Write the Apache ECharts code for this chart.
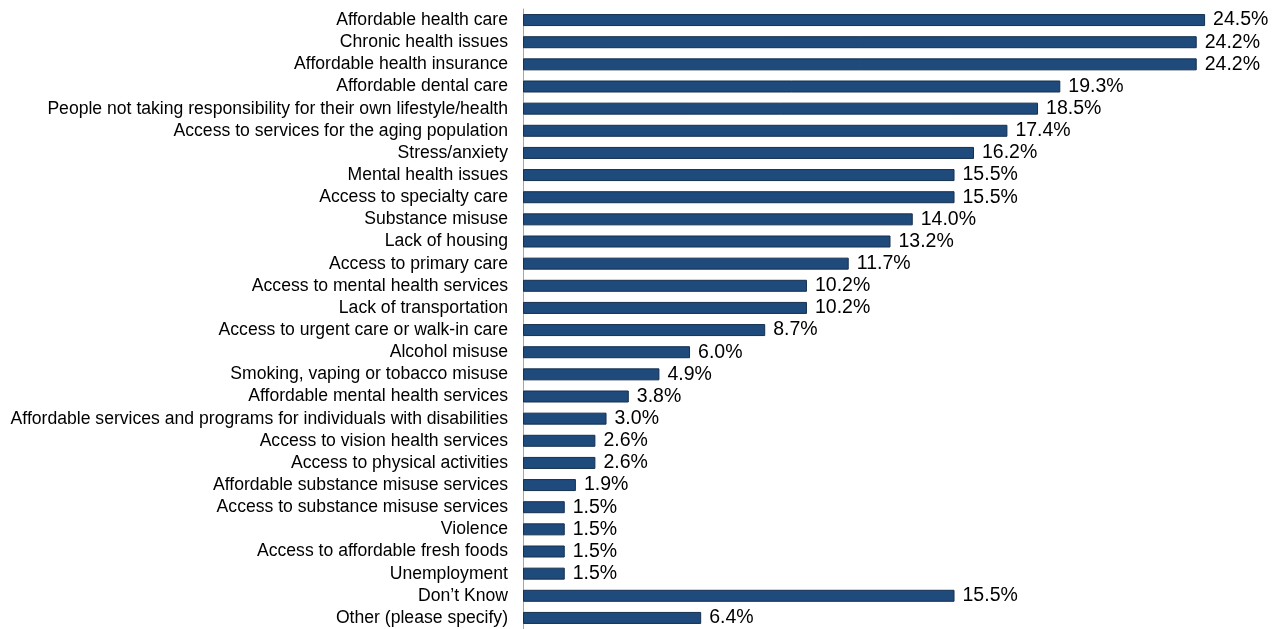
<!DOCTYPE html>
<html><head><meta charset="utf-8">
<script src="https://cdn.jsdelivr.net/npm/echarts@6/dist/echarts.min.js"></script>
<style>html,body{margin:0;padding:0;background:#fff}#c{width:1277px;height:629px}</style>
</head><body><div id="c"></div>
<script>
const categories = [
  "Affordable health care",
  "Chronic health issues",
  "Affordable health insurance",
  "Affordable dental care",
  "People not taking responsibility for their own lifestyle/health",
  "Access to services for the aging population",
  "Stress/anxiety",
  "Mental health issues",
  "Access to specialty care",
  "Substance misuse",
  "Lack of housing",
  "Access to primary care",
  "Access to mental health services",
  "Lack of transportation",
  "Access to urgent care or walk-in care",
  "Alcohol misuse",
  "Smoking, vaping or tobacco misuse",
  "Affordable mental health services",
  "Affordable services and programs for individuals with disabilities",
  "Access to vision health services",
  "Access to physical activities",
  "Affordable substance misuse services",
  "Access to substance misuse services",
  "Violence",
  "Access to affordable fresh foods",
  "Unemployment",
  "Don’t Know",
  "Other (please specify)"
];
const values = [24.5, 24.2, 24.2, 19.3, 18.5, 17.4, 16.2, 15.5, 15.5, 14.0, 13.2, 11.7, 10.2, 10.2, 8.7, 6.0, 4.9, 3.8, 3.0, 2.6, 2.6, 1.9, 1.5, 1.5, 1.5, 1.5, 15.5, 6.4];

const chart = echarts.init(document.getElementById('c'), null, {renderer: 'canvas'});
chart.setOption({
  animation: false,
  backgroundColor: '#ffffff',
  grid: {left: 523, top: 9, width: 696, height: 621, containLabel: false},
  xAxis: {
    type: 'value', min: 0, max: 25, show: false
  },
  yAxis: {
    type: 'category', data: categories, inverse: true,
    axisLine: {show: true, lineStyle: {color: '#a6a6a6', width: 1}},
    axisTick: {show: false},
    axisLabel: {interval: 0, color: '#000', fontFamily: 'Liberation Sans, Arial, sans-serif', fontSize: 17.6, margin: 15}
  },
  series: [{
    type: 'bar', data: values, barWidth: 12,
    itemStyle: {color: '#1F4A7C', borderColor: '#152F4F', borderWidth: 1},
    label: {show: true, position: 'right', distance: 8, color: '#000',
      fontFamily: 'Liberation Sans, Arial, sans-serif', fontSize: 19.5,
      formatter: p => p.value.toFixed(1) + '%'}
  }]
});
</script></body></html>
